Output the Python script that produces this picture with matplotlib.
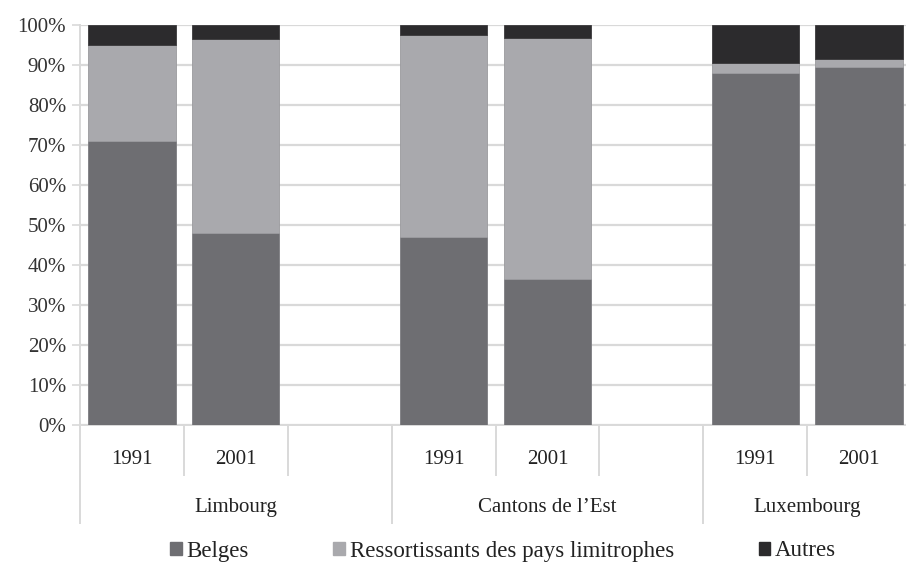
import matplotlib.pyplot as plt
from matplotlib.patches import Patch
import matplotlib.transforms as mtransforms

plt.rcParams['font.family'] = ['Liberation Serif', 'DejaVu Serif']

# population shares by nationality (%), per region and census year
regions = ['Limbourg', 'Cantons de l’Est', 'Luxembourg']
years = ['1991', '2001']
belges = [71, 48, 47, 36.5, 88, 89.6]
limitrophes = [24, 48.4, 50.5, 60.3, 2.4, 1.9]
autres = [5, 3.6, 2.5, 3.2, 9.6, 8.5]
series_names = ['Belges', 'Ressortissants des pays limitrophes', 'Autres']

colors = ['#6e6e72', '#a9a9ad', '#2c2b2d']
grid_col = '#d9d9d9'

# each region takes 3 slots (2 years + a blank one), last region only 2
xpos = [0, 1, 3, 4, 6, 7]
group_spans = [(-0.5, 2.5), (2.5, 5.5), (5.5, 7.5)]

fig = plt.figure(figsize=(9.06, 5.63), dpi=100)
W, H = 906, 563
ax = fig.add_axes([80 / W, 1 - 425 / H, 831 / W, 400 / H])

bottom2 = [b + l for b, l in zip(belges, limitrophes)]
ax.bar(xpos, belges, width=0.84, color=colors[0], edgecolor='#7c7c80', linewidth=0.6, zorder=3)
ax.bar(xpos, limitrophes, width=0.84, bottom=belges, color=colors[1], edgecolor='#9a9a9e', linewidth=0.6, zorder=3)
ax.bar(xpos, autres, width=0.84, bottom=bottom2, color=colors[2], edgecolor='#3a393b', linewidth=0.6, zorder=3)

ax.set_xlim(-0.5, 7.5)
ax.set_ylim(0, 100)
ax.set_yticks(range(0, 101, 10))
ax.set_yticklabels([f'{v}%' for v in range(0, 101, 10)], fontsize=15, color='#333333')
ax.yaxis.grid(True, color=grid_col, linewidth=1.6, zorder=0)
ax.tick_params(axis='y', length=6, width=1.2, color=grid_col, pad=4)
ax.set_xticks([])
for side in ['top', 'right']:
    ax.spines[side].set_visible(False)
for side in ['left', 'bottom']:
    ax.spines[side].set_color(grid_col)
    ax.spines[side].set_linewidth(1.4)

# two-level category axis below the bars
trans = mtransforms.blended_transform_factory(ax.transData, ax.transAxes)
inner_seps = [0.5, 1.5, 3.5, 4.5, 6.5]
for x in inner_seps:
    ax.plot([x, x], [0, -0.125], transform=trans, color=grid_col, lw=1.4, clip_on=False)
for (a, b) in group_spans:
    for x in (a, b):
        ax.plot([x, x], [0, -0.245], transform=trans, color=grid_col, lw=1.4, clip_on=False)
for i, x in enumerate(xpos):
    ax.text(x, -0.087, years[i % 2], transform=trans, ha='center', va='center',
            fontsize=15, color='#222222')
group_centers = [1, 4, 6.5]
for name, c in zip(regions, group_centers):
    ax.text(c, -0.207, name, transform=trans, ha='center', va='center',
            fontsize=15, color='#222222')

handles = [Patch(facecolor=c, edgecolor=c) for c in colors]
fig.legend(handles, series_names, loc='center', bbox_to_anchor=(503 / W, 1 - 551 / H),
           ncol=3, frameon=False, fontsize=16.5, handlelength=0.5, handleheight=0.5,
           handletextpad=0.2, columnspacing=3.7, labelcolor='#222222',
           borderaxespad=0, borderpad=0)

fig.savefig('out.png', dpi=100)
